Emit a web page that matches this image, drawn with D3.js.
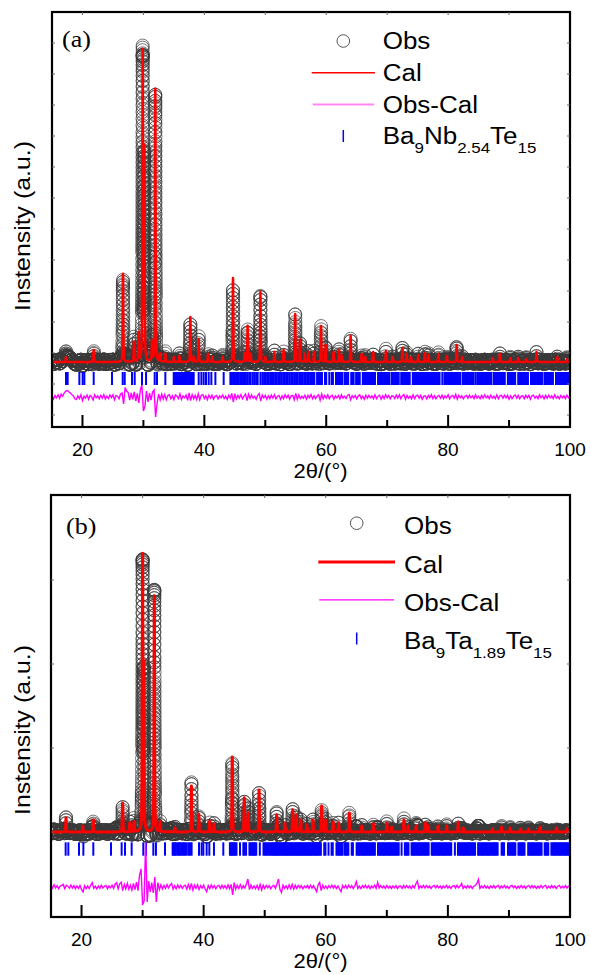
<!DOCTYPE html>
<html>
<head>
<meta charset="utf-8">
<script src="https://cdn.jsdelivr.net/npm/d3@7"></script>
<style>
  html, body { margin: 0; padding: 0; background: #fff; }
  svg { display: block; }
</style>
</head>
<body>
<svg id="chart" width="590" height="975"></svg>
<script>
// ---------- Shared axis values ----------
const xTickMajor = [20, 40, 60, 80, 100];
const xTickMinor = [30, 50, 70, 90];
const xTickTop = [20, 30, 40, 50, 60, 70, 80, 90];
const yTicksA = [16950, 15400, 13850, 12300, 10750, 9200, 7650, 6100, 4550, 3000, 1450, -100, -1650];
const yTicksB = [1000, 5200, 9400, 13600];
const X_DOMAIN = [15, 100];
const DIFF_START = 15, DIFF_STEP = 0.25;   // 2θ grid of the difference curves
const BACKGROUND = 1000;                   // flat background (counts)
const HWHM = 0.06, ETA = 0.5;              // pseudo-Voigt reflection shape
const OBS_SCATTER = 300;                   // largest offset of an observed point from the fit

// ---------- (a) Ba9Nb2.54Te15 : fitted reflections [2θ, height (counts)] ----------
const peaksA = [
  [17.3, 250], [21.84, 600], [26.65, 4400], [28.45, 1000], [29.2, 1400],
  [29.88, 15400], [30.15, 10500], [31.4, 1000], [31.95, 13650], [32.7, 400],
  [33.6, 400], [35.0, 250], [35.9, 300], [37.7, 2250], [38.3, 250],
  [39.07, 1150], [40.6, 400], [41.3, 250], [43.0, 250], [44.7, 4200],
  [46.6, 450], [47.1, 1800], [47.6, 400], [49.2, 3500], [50.0, 250],
  [51.5, 500], [53.0, 600], [54.9, 2400], [55.7, 1100], [56.5, 400],
  [57.1, 500], [58.0, 500], [59.14, 1800], [59.9, 850], [61.2, 500],
  [62.1, 600], [62.6, 300], [64.0, 1300], [65.8, 400], [66.4, 250],
  [67.7, 500], [69.8, 550], [70.9, 250], [72.5, 700], [73.2, 400],
  [73.9, 250], [75.1, 350], [76.2, 450], [76.8, 350], [78.4, 400],
  [79.8, 300], [81.4, 850], [82.3, 250], [87.3, 200], [88.5, 400],
  [90.2, 200], [91.5, 200], [92.8, 150], [94.5, 500], [97.9, 250], [99.5, 150]
];

// ---------- (b) Ba9Ta1.89Te15 ----------
const peaksB = [
  [17.46, 700], [20.2, 300], [21.93, 600], [26.73, 1450], [27.9, 450],
  [28.6, 500], [30.0, 13600], [30.2, 8000], [31.92, 11800], [32.85, 500],
  [35.3, 200], [38.0, 2300], [39.2, 900], [41.0, 550], [41.7, 400],
  [44.69, 3750], [46.66, 1700], [47.3, 950], [49.07, 2100], [51.96, 850],
  [53.3, 450], [54.58, 1100], [55.2, 850], [55.9, 600], [56.9, 350],
  [57.9, 600], [59.33, 1300], [60.0, 600], [61.2, 500], [62.1, 450],
  [63.86, 950], [65.9, 300], [67.8, 400], [70.0, 450], [70.8, 250],
  [72.8, 600], [73.5, 300], [74.8, 300], [76.3, 450], [76.8, 300],
  [78.4, 300], [79.8, 300], [81.7, 500], [82.5, 200], [87.3, 150],
  [88.8, 250], [90.2, 200], [91.9, 150], [93.2, 150], [95.1, 250],
  [97.8, 200], [99.5, 150]
];

// ---------- Obs-Cal (counts), every 0.25° from 15° to 100° ----------
const diffA = [
  60, -100, 80, -40, 110, -70, 140, 40,
  200, 300, 320, 260, 200, 120, 60, -90,
  -130, 60, -80, 110, -180, 40, -60, 100,
  -110, 80, 20, -150, 110, -40, 60, -90,
  80, -60, 120, -100, 40, -80, 100, -30,
  110, -140, 80, 40, -90, 150, 200, -350,
  480, 300, 220, -150, 200, -120, 260, -200,
  180, -300, 350, 600, -700, -450, 300, -250,
  200, -150, 250, 350, -1000, -300, 150, -150,
  140, -100, 120, -140, 70, 110, -90, 60,
  -130, 100, 40, -80, 150, -120, 60, -40,
  100, -170, 200, -180, 120, -90, 80, -130,
  160, -140, 90, 120, -80, 60, -130, 100,
  -60, 90, -110, 40, 80, -90, 60, -40,
  100, -80, 40, -120, 90, -60, 180, -250,
  160, -100, 80, -60, 120, -90, 40, 140,
  -180, 140, -70, 100, -60, 40, -110, 80,
  170, -200, 100, -40, 80, -110, 60, -80,
  90, -60, 110, -90, 40, 80, -120, 60,
  -80, 110, -40, 90, -110, 60, 80, -140,
  180, -120, 100, -80, 40, -60, 90, -110,
  80, -40, 120, -90, 60, -80, 40, 110,
  -160, 150, -90, 80, -60, 110, -80, 40,
  90, -110, 60, -40, 80, -90, 110, -60,
  40, -80, 90, 130, -140, 60, -40, 80,
  -90, 60, 110, -80, 40, -110, 90, -60,
  80, -40, 60, -90, 110, -80, 40, 90,
  -110, 60, -80, 110, -40, 80, -90, 60,
  40, -80, 90, -60, 110, -90, 60, 120,
  -110, 80, -60, 40, -90, 110, -80, 60,
  90, -60, 80, -110, 40, 60, -90, 80,
  -40, 110, -80, 60, -90, 40, 80, -60,
  90, -80, 60, -40, 110, -90, 40, 80,
  -60, 130, -110, 80, -40, 60, -90, 40,
  80, -60, 90, -40, 60, -80, 110, -60,
  40, -90, 80, -60, 110, -40, 60, -80,
  90, -60, 40, -80, 110, -90, 60, 80,
  -60, 90, -40, 80, -110, 60, -80, 40,
  110, -60, 80, -90, 40, 60, -80, 90,
  -40, 80, -110, 60, 90, -60, 40, -80,
  110, -40, 60, -90, 80, -60, 90, -40,
  60, -80, 110, -60, 40, -90, 80, -40,
  60, -80, 90, -40, 60
];
const diffB = [
  90, -60, 120, -40, 70, -90, 50, 80,
  130, -80, 90, 40, -60, 100, -50, 70,
  -90, 50, -70, 80, -120, -250, 60, -90,
  50, -80, 90, 220, -70, 40, -100, 50,
  -70, 90, -50, 40, 80, -90, 60, -40,
  90, -70, 140, 220, -90, 160, 240, -180,
  130, -90, 180, -110, 90, -150, 180, -130,
  240, -180, 600, 900, -900, -700, 2250, -750,
  300, -250, 220, -300, 500, -750, 220, -130,
  110, -90, 80, -70, 120, -50, 90, 180,
  -110, 70, -90, 100, -50, 80, -70, 50,
  90, -110, 130, -90, 180, -150, 90, -70,
  110, -120, 70, -50, 90, -100, -230, 70,
  -80, 100, -50, 70, -90, 50, 80, -70,
  90, -50, 70, -80, 110, -90, 130, -400,
  220, -110, 90, -70, 120, -80, 70, -50,
  150, 400, -130, 90, -70, 50, -90, 80,
  -110, 130, -150, 90, -70, 80, -50, 70,
  -90, 50, 80, -70, 150, 400, -130, -270,
  90, -70, 50, -90, 110, -80, 130, -110,
  90, -70, 80, -50, 70, -90, 50, -40,
  80, -70, 90, -50, 70, -80, -230, 110,
  230, -180, 90, -70, 50, -80, 70, -40,
  90, -50, 70, -80, 50, -100, -230, 70,
  -50, 80, -70, 90, -40, 70, -80, 50,
  270, -70, 50, -80, 70, -40, 90, -50,
  70, -80, 50, -40, 90, -70, 230, -50,
  70, -40, 50, -70, 80, -50, 40, -70,
  50, -40, 70, -80, 40, 50, -70, 80,
  -50, 70, -40, 50, -80, 70, -50, 150,
  300, -70, 50, -40, 80, -50, 70, -40,
  50, -70, 40, 80, -50, 70, -40, 50,
  -70, 50, -40, 80, -50, 40, -70, 50,
  70, -50, 90, -40, 50, 180, -70, 40,
  -50, 70, -40, 50, -70, 40, 80, 180,
  380, -70, 50, -40, 70, -50, 40, -70,
  50, -40, 70, -50, 40, 80, -70, 50,
  -40, 70, -50, 40, -70, 50, 80, -40,
  50, -70, 40, -50, 70, -40, 50, -70,
  40, 80, -50, 70, -40, 50, -70, 40,
  -50, 70, -40, 50, 80, -70, 40, -50,
  70, -40, 50, -70, 40, 80, -50, 40,
  -40, 70, -50, 40, 50
];

// ---------- Bragg reflection positions (2θ) ----------
const braggA = [
  17.30, 17.57, 19.49, 20.03, 20.31, 21.84, 24.85, 26.60, 26.93, 28.13, 28.57,
  29.77, 30.43, 31.85, 32.23, 33.60,
  34.97, 35.15, 35.33, 35.51, 35.69, 35.87, 36.06, 36.25, 36.44, 36.60, 36.77,
  36.95, 37.16, 37.30, 37.43, 37.65, 37.87, 38.05, 38.25,
  39.07, 39.51, 39.89, 40.27, 40.71, 41.15, 41.81, 43.17,
  44.27, 44.50, 44.72, 44.95, 45.20, 45.42, 45.65, 45.90, 46.12, 46.35, 46.58,
  46.82, 47.10, 47.38, 47.60, 47.95, 48.22, 48.50, 48.75, 49.20, 49.52, 49.80,
  50.05, 50.30, 50.58, 50.85, 51.10, 51.35, 51.62, 51.88, 52.15, 52.40, 52.68,
  52.95, 53.20, 53.45, 53.70, 53.98, 54.25, 54.52, 54.80, 55.05, 55.30, 55.58,
  55.85, 56.10, 56.38, 56.65, 56.90, 57.15, 57.42,
  57.65, 57.85, 58.05, 58.50, 58.70, 58.90, 59.10, 59.30, 59.80, 60.00, 60.50,
  60.90, 61.10, 61.60, 61.80, 62.00, 62.20, 62.40, 62.60, 63.00, 63.20, 63.40,
  63.60, 64.10, 64.30, 64.50, 64.90, 65.10, 65.30, 65.50, 66.00, 66.20, 66.40,
  66.60, 66.80, 67.00, 67.20, 67.40, 67.60, 67.80, 68.00, 68.50, 68.70, 68.90,
  69.10, 69.30, 69.50, 69.70, 69.90, 70.10, 70.30, 70.70, 70.90, 71.10, 71.30,
  71.50, 71.70, 71.90, 72.30, 72.50, 72.70, 72.90, 73.10, 73.30, 73.50, 73.70,
  74.20, 74.40, 74.60, 74.80, 75.00, 75.20, 75.40, 75.60, 75.80, 76.00, 76.20,
  76.40, 76.60, 76.80, 77.00, 77.20, 77.40, 77.60, 77.80, 78.00, 78.20, 78.40,
  78.60, 79.05, 79.40, 79.60, 79.80, 80.00, 80.20, 80.40, 80.60, 80.80, 81.00,
  81.20, 81.40, 81.60, 81.80, 82.00, 82.40, 82.60, 82.80, 83.00, 83.20, 83.40,
  83.60, 83.80, 84.00, 84.20, 84.55, 84.90, 85.10, 85.30, 85.50, 85.70, 85.90,
  86.10, 86.30, 86.50, 86.70, 86.90, 87.10, 87.50, 87.70, 87.90, 88.10, 88.30,
  88.50, 88.70, 88.90, 89.10, 89.30, 89.80, 90.00, 90.20, 90.40, 90.60, 90.80,
  91.00, 91.50, 91.70, 91.90, 92.10, 92.30, 92.50, 92.70, 92.90, 93.10, 93.60,
  93.80, 94.00, 94.20, 94.40, 94.60, 94.80, 95.00, 95.20, 95.40, 95.80, 96.00,
  96.20, 96.40, 96.60, 96.80, 97.00, 97.20, 97.70, 97.90, 98.10, 98.30, 98.50,
  98.70, 98.90, 99.10, 99.30, 99.50, 99.70, 99.90
];
const braggB = [
  17.40, 17.84, 19.59, 20.30, 21.93, 24.83, 26.57, 27.12, 28.21, 30.12, 30.56,
  31.76, 32.19, 33.67,
  34.92, 35.10, 35.28, 35.46, 35.73, 35.92, 36.11, 36.34, 36.56, 36.75, 36.94,
  37.21, 37.50, 37.76, 38.03, 39.24, 39.67, 39.95, 40.49, 40.93, 41.69, 43.22,
  44.30, 44.48, 44.66, 44.84, 45.02, 45.20, 45.38, 45.95, 46.50, 46.70, 46.95,
  47.50, 47.68, 47.86, 48.04, 48.22, 48.40, 48.62, 49.20, 49.80, 50.00, 50.22,
  50.45, 50.68, 50.90, 51.12, 51.30, 51.48, 51.66, 51.84, 52.02, 52.20, 52.38,
  52.56, 52.74, 52.92, 53.10, 53.28, 53.46, 53.64, 53.82, 54.00, 54.18, 54.36,
  54.54, 54.72, 54.90, 55.08, 55.26, 55.44, 55.62, 55.80, 55.98, 56.16, 56.34,
  56.52, 56.70, 56.88, 57.06, 57.24, 57.42,
  57.60, 57.80, 58.00, 58.20, 58.40, 58.60, 58.80, 59.00, 59.20, 59.75, 59.95,
  60.45, 60.95, 61.15, 61.75, 61.95, 62.15, 62.35, 62.55, 62.75, 63.10, 63.30,
  63.50, 63.70, 64.25, 64.45, 65.05, 65.25, 65.45, 65.65, 65.85, 66.05, 66.25,
  66.45, 66.65, 66.85, 67.05, 67.25, 67.45, 67.65, 67.85, 68.05, 68.55, 68.75,
  68.95, 69.15, 69.35, 69.55, 69.75, 69.95, 70.15, 70.35, 70.55, 70.75, 70.95,
  71.15, 71.35, 71.55, 71.75, 71.95, 72.42, 72.95, 73.15, 73.35, 73.55, 74.05,
  74.25, 74.45, 74.65, 74.85, 75.05, 75.25, 75.45, 75.65, 75.85, 76.05, 76.25,
  76.45, 76.65, 76.85, 77.35, 77.55, 77.75, 77.95, 78.15, 78.35, 78.55, 78.75,
  78.95, 79.15, 79.35, 79.55, 79.75, 79.95, 80.15, 80.35, 80.55, 81.15, 81.65,
  81.85, 82.05, 82.25, 82.45, 82.65, 82.85, 83.05, 83.25, 83.45, 83.65, 83.85,
  84.05, 84.25, 84.45, 84.95, 85.15, 85.35, 85.55, 85.75, 85.95, 86.15, 86.35,
  86.55, 86.75, 86.95, 87.15, 87.35, 87.55, 87.75, 87.95, 88.15, 88.80, 89.00,
  89.20, 89.85, 90.05, 90.25, 90.45, 90.65, 90.85, 91.05, 91.55, 91.75, 91.95,
  92.15, 92.35, 92.55, 93.15, 93.35, 93.55, 93.75, 93.95, 94.15, 94.35, 94.55,
  94.75, 94.95, 95.15, 95.35, 95.85, 96.05, 96.25, 96.45, 96.95, 97.15, 97.35,
  97.55, 97.75, 97.95, 98.15, 98.35, 98.55, 98.75, 98.95, 99.15, 99.35, 99.55,
  99.75, 99.95
];

// Phase names: [text, subscript] pairs
const phaseA = [["Ba", "9"], ["Nb", "2.54"], ["Te", "15"]];
const phaseB = [["Ba", "9"], ["Ta", "1.89"], ["Te", "15"]];
const legendNames = ["Obs", "Cal", "Obs-Cal"];

// ---------- Panel layout ----------
const panels = [
  {
    tag: "(a)", tagPos: [62, 47],
    box: { left: 52, right: 570, top: 12, bottom: 427 },
    yDomain: [-2250, 18500], diffZero: -750, braggSpan: [-150, 500], yTicks: yTicksA,
    peaks: peaksA, diff: diffA, bragg: braggA, phase: phaseA,
    calWidth: 2.5,
    ylabelCenter: 226, tickBase: 456, titleBase: 478,
    legend: { sym: 343.3, line: [311.7, 375], text: 382.7, rows: [49.3, 81, 112.7, 144.3], dy: -8.3,
              calW: 1.6, diffW: 2, diffColor: "#ff88f4" }
  },
  {
    tag: "(b)", tagPos: [66, 534],
    box: { left: 51, right: 570, top: 495, bottom: 917 },
    yDomain: [-3250, 17850], diffZero: -1750, braggSpan: [-185, 485], yTicks: yTicksB,
    peaks: peaksB, diff: diffB, bragg: braggB, phase: phaseB,
    calWidth: 3,
    ylabelCenter: 730, tickBase: 946, titleBase: 968,
    legend: { sym: 356.7, line: [318.3, 395], text: 404, rows: [534, 572.7, 610.7, 649.3], dy: -10.8,
              calW: 3, diffW: 1.2, diffColor: "#ff00ff" }
  }
];

const FONT = "'Liberation Sans', Arial, Helvetica, sans-serif";
const SERIF = "'Liberation Serif', 'Times New Roman', serif";
const STRETCH = 1.13;   // wide lettering of the labels

const svg = d3.select("#chart");

function calc(peaks, x) {
  let s = BACKGROUND;
  for (const [p, h] of peaks) {
    const d = (x - p) / HWHM, d2 = d * d;
    s += h * (ETA / (1 + d2) + (1 - ETA) * Math.exp(-Math.LN2 * d2));
  }
  return s;
}

panels.forEach((P, pi) => {
  const b = P.box;
  const x = d3.scaleLinear().domain(X_DOMAIN).range([b.left, b.right]);
  const y = d3.scaleLinear().domain(P.yDomain).range([b.bottom, b.top]);
  const g = svg.append("g");

  const clipId = "clip" + pi;
  svg.append("defs").append("clipPath").attr("id", clipId)
    .append("rect").attr("x", b.left).attr("y", b.top)
    .attr("width", b.right - b.left).attr("height", b.bottom - b.top);
  const plot = g.append("g").attr("clip-path", `url(#${clipId})`);

  const diffAt = t => {
    const i = Math.max(0, Math.min(P.diff.length - 1, Math.round((t - DIFF_START) / DIFF_STEP)));
    return Math.max(-OBS_SCATTER, Math.min(OBS_SCATTER, P.diff[i]));
  };

  // Observed points: base sampling refined where the profile climbs steeply
  const obs = [];
  const base = d3.range(X_DOMAIN[0], X_DOMAIN[1] + 1e-9, 0.04);
  for (let k = 0; k < base.length; k++) {
    const t0 = base[k];
    obs.push(t0);
    if (k + 1 < base.length) {
      const t1 = base[k + 1];
      const dy = Math.abs(y(calc(P.peaks, t1)) - y(calc(P.peaks, t0)));
      const n = Math.ceil(dy / 4.5);
      for (let j = 1; j < n; j++) obs.push(t0 + (t1 - t0) * j / n);
    }
  }
  plot.append("g").selectAll("circle").data(obs).join("circle")
    .attr("cx", d => x(d))
    .attr("cy", d => y(calc(P.peaks, d) + diffAt(d)))
    .attr("r", 6.5)
    .attr("fill", "none")
    .attr("stroke", "#3a3a3a")
    .attr("stroke-width", 0.7);

  // Calculated profile
  const calcPts = d3.range(X_DOMAIN[0], X_DOMAIN[1] + 1e-9, 0.01).map(t => [t, calc(P.peaks, t)]);
  plot.append("path").datum(calcPts)
    .attr("d", d3.line().x(d => x(d[0])).y(d => y(d[1])))
    .attr("fill", "none").attr("stroke", "#ff0000")
    .attr("stroke-width", P.calWidth).attr("stroke-linejoin", "round");

  // Bragg reflection ticks
  plot.append("g").selectAll("line").data(P.bragg).join("line")
    .attr("x1", d => x(d)).attr("x2", d => x(d))
    .attr("y1", y(P.braggSpan[0])).attr("y2", y(P.braggSpan[1]))
    .attr("stroke", "#0000ff").attr("stroke-width", 2);

  // Difference curve
  plot.append("path").datum(P.diff)
    .attr("d", d3.line().x((d, i) => x(DIFF_START + i * DIFF_STEP)).y(d => y(P.diffZero + d)))
    .attr("fill", "none").attr("stroke", "#ff00ff").attr("stroke-width", 1.4);

  // Frame
  g.append("rect").attr("x", b.left).attr("y", b.top)
    .attr("width", b.right - b.left).attr("height", b.bottom - b.top)
    .attr("fill", "none").attr("stroke", "#000").attr("stroke-width", 2.2);

  // Small inward ticks on the intensity sides
  [b.left, b.right].forEach((xe, side) => {
    g.append("g").selectAll("line").data(P.yTicks).join("line")
      .attr("x1", xe).attr("x2", side === 0 ? xe + 3 : xe - 3)
      .attr("y1", d => y(d)).attr("y2", d => y(d))
      .attr("stroke", "#666").attr("stroke-width", 1);
  });

  // Bottom ticks (inward) and labels
  g.append("g").selectAll("line").data(xTickMajor).join("line")
    .attr("x1", d => x(d)).attr("x2", d => x(d))
    .attr("y1", b.bottom).attr("y2", b.bottom - 12)
    .attr("stroke", "#000").attr("stroke-width", 2);
  g.append("g").selectAll("line").data(xTickMinor).join("line")
    .attr("x1", d => x(d)).attr("x2", d => x(d))
    .attr("y1", b.bottom).attr("y2", b.bottom - 7)
    .attr("stroke", "#000").attr("stroke-width", 2);
  g.append("g").selectAll("line").data(xTickTop).join("line")
    .attr("x1", d => x(d)).attr("x2", d => x(d))
    .attr("y1", b.top).attr("y2", b.top + 3)
    .attr("stroke", "#666").attr("stroke-width", 1);
  g.append("g").selectAll("text").data(xTickMajor).join("text")
    .attr("x", d => x(d)).attr("y", P.tickBase)
    .attr("text-anchor", "middle").attr("font-family", FONT).attr("font-size", 19)
    .text(d => d);

  // Axis titles
  g.append("g").attr("transform", `translate(320.5,${P.titleBase}) scale(${STRETCH},1)`)
    .append("text").attr("text-anchor", "middle").attr("font-family", FONT).attr("font-size", 19.5)
    .text("2θ/(°)");
  g.append("g").attr("transform", `translate(30,${P.ylabelCenter}) rotate(-90) scale(${STRETCH},1)`)
    .append("text").attr("text-anchor", "middle").attr("font-family", FONT).attr("font-size", 22)
    .text("Instensity (a.u.)");

  // Panel tag
  g.append("g").attr("transform", `translate(${P.tagPos[0]},${P.tagPos[1]}) scale(${STRETCH},1)`)
    .append("text").attr("font-family", SERIF).attr("font-size", 23).text(P.tag);

  // Legend
  const L = P.legend;
  g.append("circle").attr("cx", L.sym).attr("cy", L.rows[0] + L.dy).attr("r", 6.3)
    .attr("fill", "none").attr("stroke", "#555").attr("stroke-width", 1);
  g.append("line").attr("x1", L.line[0]).attr("x2", L.line[1])
    .attr("y1", L.rows[1] + L.dy).attr("y2", L.rows[1] + L.dy)
    .attr("stroke", "#ff0000").attr("stroke-width", L.calW);
  g.append("line").attr("x1", L.line[0] + 1).attr("x2", L.line[1] - 1)
    .attr("y1", L.rows[2] + L.dy).attr("y2", L.rows[2] + L.dy)
    .attr("stroke", L.diffColor).attr("stroke-width", L.diffW);
  g.append("line").attr("x1", L.sym).attr("x2", L.sym)
    .attr("y1", L.rows[3] + L.dy - 6).attr("y2", L.rows[3] + L.dy + 6)
    .attr("stroke", "#0000ff").attr("stroke-width", 1.5);

  legendNames.forEach((name, i) => {
    g.append("g").attr("transform", `translate(${L.text},${L.rows[i]}) scale(${STRETCH},1)`)
      .append("text").attr("font-family", FONT).attr("font-size", 23).text(name);
  });
  const ph = g.append("g").attr("transform", `translate(${L.text},${L.rows[3]}) scale(${STRETCH},1)`)
    .append("text").attr("font-family", FONT).attr("font-size", 23);
  P.phase.forEach(([main, sub], i) => {
    ph.append("tspan").attr("dy", i === 0 ? 0 : -8.5).text(main);
    ph.append("tspan").attr("font-size", 15).attr("dy", 8.5).text(sub);
  });
});
</script>
</body>
</html>
